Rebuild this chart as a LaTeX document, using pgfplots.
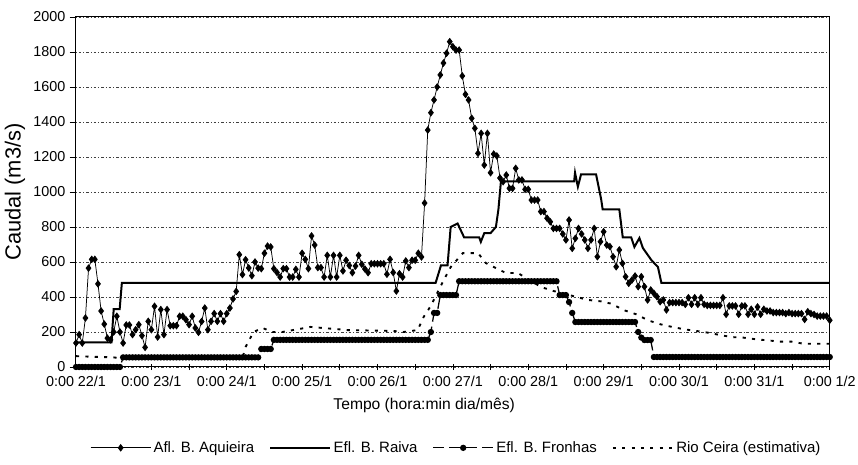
\documentclass[border=0pt]{standalone}
\usepackage{fontspec}
\setmainfont{Liberation Sans}
\usepackage{pgfplots}
\usepackage{pgfplotstable}
\pgfplotsset{compat=1.18}

\pgfplotstableread{
h aq fr
0 137 0
1 185 0
2 137 0
3 280 0
4 565 0
5 615 0
6 615 0
7 475 0
8 320 0
9 245 0
10 165 0
11 155 0
12 200 0
13 290 0
14 200 0
15 137 55
16 240 55
17 240 55
18 185 55
19 213 55
20 242 55
21 179 55
22 112 55
23 261 55
24 213 55
25 347 55
26 171 55
27 328 55
28 185 55
29 328 55
30 236 55
31 236 55
32 236 55
33 290 55
34 290 55
35 270 55
36 242 55
37 290 55
38 223 55
39 198 55
40 260 55
41 337 55
42 213 55
43 261 55
44 305 55
45 261 55
46 305 55
47 261 55
48 305 55
49 337 55
50 389 55
51 432 55
52 642 55
53 528 55
54 613 55
55 566 55
56 522 55
57 600 55
58 565 55
59 562 103
60 650 103
61 691 103
62 686 103
63 562 155
64 540 155
65 514 155
66 562 155
67 562 155
68 514 155
69 514 155
70 558 155
71 514 155
72 650 155
73 615 155
74 562 155
75 749 155
76 697 155
77 568 155
78 568 155
79 514 155
80 638 155
81 514 155
82 638 155
83 514 155
84 638 155
85 549 155
86 610 155
87 580 155
88 539 155
89 577 155
90 638 155
91 587 155
92 560 155
93 539 155
94 590 155
95 590 155
96 590 155
97 590 155
98 590 155
99 530 155
100 615 155
101 540 155
102 434 155
103 533 155
104 514 155
105 606 155
106 568 155
107 610 155
108 610 155
109 650 155
110 629 155
111 937 155
112 1354 155
113 1453 200
114 1526 309
115 1600 309
116 1669 411
117 1737 411
118 1793 411
119 1859 411
120 1830 411
121 1811 411
122 1811 490
123 1663 490
124 1558 490
125 1526 490
126 1421 490
127 1364 490
128 1221 490
129 1335 490
130 1154 490
131 1335 490
132 1110 490
133 1217 490
134 1206 490
135 1080 490
136 1059 490
137 1097 490
138 1021 490
139 1021 490
140 1135 490
141 1069 490
142 1069 490
143 1015 490
144 1015 490
145 954 490
146 954 490
147 954 490
148 888 490
149 888 490
150 850 490
151 830 490
152 792 490
153 792 490
154 792 411
155 760 411
156 726 411
157 840 371
158 678 309
159 735 257
160 792 257
161 760 257
162 726 257
163 678 257
164 726 257
165 792 257
166 630 257
167 716 257
168 773 257
169 697 257
170 688 257
171 630 257
172 573 257
173 669 257
174 592 257
175 516 257
176 478 257
177 497 257
178 520 257
179 459 200
180 516 168
181 459 154
182 383 154
183 440 154
184 421 57
185 402 57
186 373 57
187 383 57
188 326 57
189 368 57
190 368 57
191 368 57
192 368 57
193 368 57
194 358 57
195 396 57
196 358 57
197 396 57
198 358 57
199 396 57
200 358 57
201 352 57
202 352 57
203 352 57
204 352 57
205 352 57
206 396 57
207 301 57
208 349 57
209 349 57
210 349 57
211 301 57
212 349 57
213 349 57
214 301 57
215 330 57
216 301 57
217 343 57
218 301 57
219 330 57
220 320 57
221 320 57
222 311 57
223 311 57
224 311 57
225 311 57
226 305 57
227 311 57
228 305 57
229 305 57
230 305 57
231 305 57
232 272 57
233 316 57
234 305 57
235 300 57
236 291 57
237 291 57
238 291 57
239 291 57
240 267 57
}\hourly

\begin{document}
\begin{tikzpicture}[font=\fontsize{12}{14}\selectfont]
\useasboundingbox (-60.8pt,-78.4pt) rectangle (625.6pt,293.6pt);
\begin{axis}[
  at={(0,0)}, anchor=south west,
  scale only axis, width=603pt, height=280pt,
  xmin=0, xmax=240, ymin=0, ymax=2000,
  clip=false,
  axis line style={black, line width=0.8pt},
  xtick={0,24,...,240},
  xticklabels={0:00 22/1,0:00 23/1,0:00 24/1,0:00 25/1,0:00 26/1,0:00 27/1,0:00 28/1,0:00 29/1,0:00 30/1,0:00 31/1,0:00 1/2},
  minor xtick={12,36,...,228},
  ytick={0,200,...,2000},
  tick pos=left,
  xtick align=center,
  ytick align=outside,
  major tick length=5pt,
  minor tick length=5pt,
  tick style={black, line width=0.6pt},
  ymajorgrids,
  major grid style={black!75, line width=0.4pt, dash pattern=on 0.6pt off 1.6pt on 2.2pt off 1.6pt},
  /pgf/number format/assume math mode=true,
  /pgf/number format/1000 sep={},
  ticklabel style={font=\fontsize{11.5}{13}\selectfont},
  xticklabel style={yshift=-1pt},
  ylabel={Caudal (m3/s)},
  xlabel={Tempo (hora:min dia/mês)},
  every axis y label/.style={at={(axis description cs:-0.081,0.5)}, rotate=90, anchor=center, font=\fontsize{17.5}{19}\selectfont},
  every axis x label/.style={at={(axis description cs:0.462,-0.109)}, anchor=center, font=\fontsize{12.5}{14}\selectfont},
  legend columns=4,
  legend cell align=left,
  legend style={draw=none, fill=none, at={(axis description cs:0.505,-0.231)}, anchor=center, font=\fontsize{12}{14}\selectfont, /tikz/every even column/.append style={column sep=10pt}},
  legend image code/.code={\draw[mark repeat=2,mark phase=2,#1] plot coordinates {(0pt,0pt) (24pt,0pt) (48pt,0pt)};},
]
\addplot[black, line width=0.6pt, mark=diamond*, mark size=2.6pt, mark options={solid, fill=black}] table[x=h,y=aq]{\hourly};
\addlegendentry{Afl. B. Aquieira}
\addplot[black, line width=1.6pt] coordinates {
(0,140) (11.3,140) (12,330) (13.9,330) (14.6,480) (114.5,480) (116.2,580) (118.3,580) (119.3,800) (121.5,820) (123.6,740) (128.4,740) (128.9,715) (130,765) (132,765) (133.7,800) (134.5,900) (135.3,1060) (158.6,1060) (158.9,1110) (159.8,1030) (160.8,1100) (165.6,1100) (167.2,960) (167.7,900) (173,900) (174.1,740) (176.8,740) (177.8,686) (179.4,737) (180.5,680) (183.2,611) (185.3,571) (186.4,480) (240,480)
};
\addlegendentry{Efl. B. Raiva}
\addplot[black, line width=1pt, dash pattern=on 9pt off 4pt, mark=*, mark size=2pt, mark options={solid, fill=black}] table[x=h,y=fr]{\hourly};
\addlegendentry{Efl. B. Fronhas}
\addplot[black, line width=1.5pt, dash pattern=on 2.5pt off 5pt] coordinates {
(0,62) (6,58) (12,55) (14,50) (53,50) (54,114) (56.5,200) (59.4,223) (62.5,200) (65.7,200) (74.7,229) (78.5,223) (86.5,211) (101,206) (104.3,200) (108.8,211) (110.7,286) (113,350) (117.1,497) (119.3,571) (123.2,651) (128,651) (130.5,594) (136.9,537) (140.7,537) (148.1,457) (151.9,435) (163.1,383) (167.2,375) (170.4,362) (174.6,324) (178.4,301) (182.1,267) (186.1,244) (189.8,229) (193.8,215) (197.5,206) (201.3,196) (205,183) (208.7,171) (212.4,168) (216.7,158) (220.4,152) (224.1,145) (227.8,145) (231.6,133) (235.3,133) (240,133)
};
\addlegendentry{Rio Ceira (estimativa)}
\end{axis}
\end{tikzpicture}
\end{document}
